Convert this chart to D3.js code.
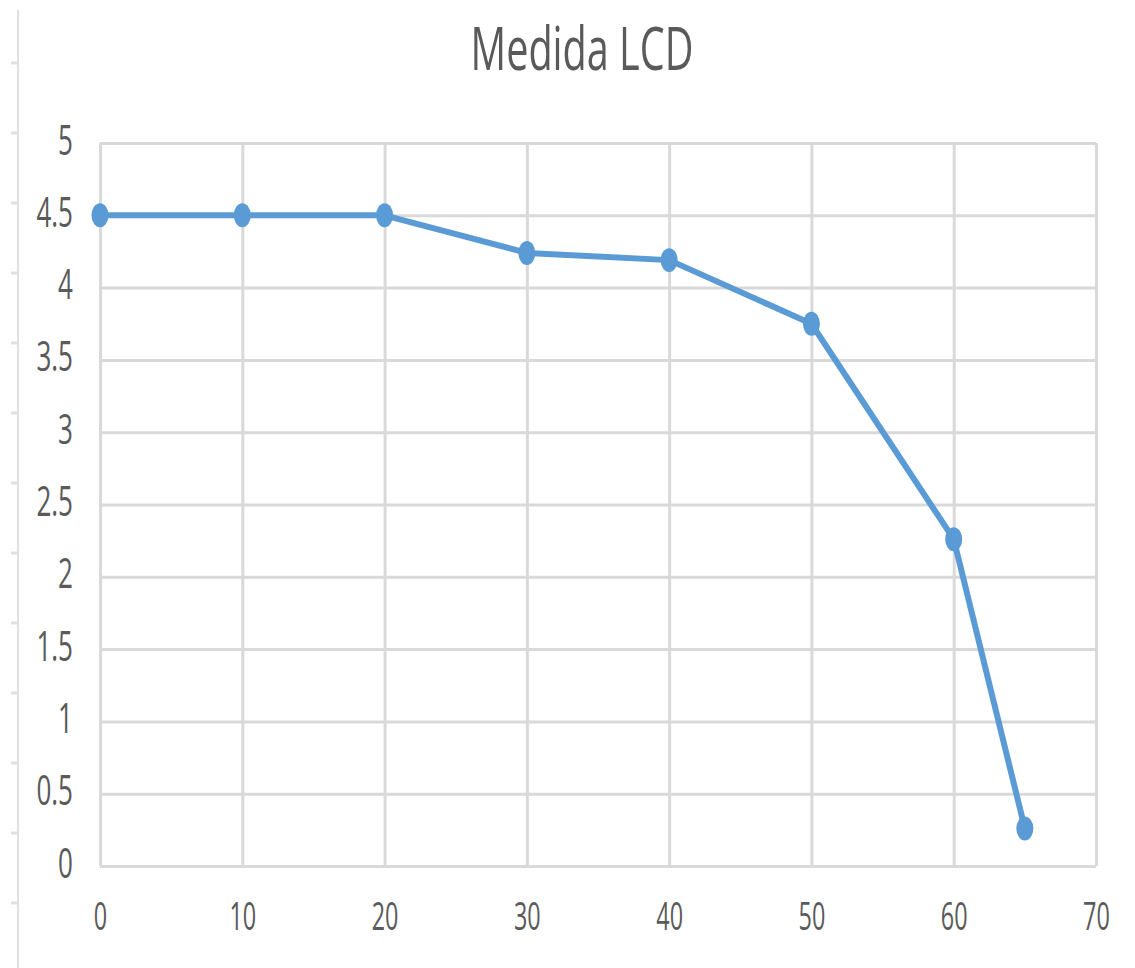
<!DOCTYPE html>
<html>
<head>
<meta charset="utf-8">
<script src="https://cdn.jsdelivr.net/npm/d3@7/dist/d3.min.js"></script>
<style>
  html, body { margin: 0; padding: 0; background: #fff; }
  svg { display: block; }
  text { font-family: "Open Sans", sans-serif; fill: #5a5a5a; }
</style>
</head>
<body>
<svg id="chart" width="1135" height="968"></svg>
<script>
// Measurement series: input level vs. LCD reading
const xValues = [0, 10, 20, 30, 40, 50, 60, 65];
const yValues = [4.5, 4.5, 4.5, 4.24, 4.19, 3.75, 2.26, 0.26];
const xTicks = [0, 10, 20, 30, 40, 50, 60, 70];
const yTicks = [0, 0.5, 1, 1.5, 2, 2.5, 3, 3.5, 4, 4.5, 5];
const titleText = "Medida LCD";

const svg = d3.select("#chart");
const W = 1135, H = 968;
const margin = { left: 100, right: 39, top: 143, bottom: 102 };

const x = d3.scaleLinear().domain([0, 70]).range([margin.left, W - margin.right]);
const y = d3.scaleLinear().domain([0, 5]).range([H - margin.bottom, margin.top]);

const gridColor = "#d9d9d9";

// Thin ruler strip along the left edge
const ruler = d3.scaleLinear().domain([0, 13]).range([63, 63 + 70 * 13]);
svg.append("line")
  .attr("x1", 18).attr("x2", 18).attr("y1", 10).attr("y2", H)
  .attr("stroke", "#e0e0e0").attr("stroke-width", 2);
svg.append("g").selectAll("line")
  .data(d3.range(0, 14))
  .join("line")
  .attr("x1", 11).attr("x2", 18)
  .attr("y1", d => ruler(d)).attr("y2", d => ruler(d))
  .attr("stroke", "#e0e0e0").attr("stroke-width", 3);

// Horizontal gridlines (y axis)
const yAxis = svg.append("g")
  .attr("transform", `translate(${margin.left},0)`)
  .call(d3.axisLeft(y).tickValues(yTicks).tickFormat(d3.format("")).tickSize(-(W - margin.left - margin.right)).tickPadding(0));
yAxis.select(".domain").remove();
yAxis.selectAll(".tick line").attr("stroke", gridColor).attr("stroke-width", 3);
yAxis.selectAll(".tick text")
  .attr("x", null).attr("dy", null)
  .attr("text-anchor", "end")
  .style("font-size", "42px")
  .attr("transform", "translate(-27,11) scale(0.62,1)");

// Vertical gridlines (x axis)
const xAxis = svg.append("g")
  .attr("transform", `translate(0,${H - margin.bottom})`)
  .call(d3.axisBottom(x).tickValues(xTicks).tickFormat(d3.format("d")).tickSize(-(H - margin.top - margin.bottom)).tickPadding(0));
xAxis.select(".domain").remove();
xAxis.selectAll(".tick line").attr("stroke", gridColor).attr("stroke-width", 3);
xAxis.selectAll(".tick text")
  .attr("y", null).attr("dy", null)
  .attr("text-anchor", "middle")
  .style("font-size", "39px")
  .attr("transform", "translate(0,64) scale(0.6,1)");

// Data line
const pts = xValues.map((v, i) => [v, yValues[i]]);
svg.append("path")
  .datum(pts)
  .attr("fill", "none")
  .attr("stroke", "#5b9bd5")
  .attr("stroke-width", 6)
  .attr("stroke-linejoin", "round")
  .attr("d", d3.line().x(d => x(d[0])).y(d => y(d[1])));

// Markers
svg.append("g").selectAll("ellipse")
  .data(pts)
  .join("ellipse")
  .attr("cx", d => x(d[0]))
  .attr("cy", d => y(d[1]))
  .attr("rx", 8.5).attr("ry", 12)
  .attr("fill", "#5b9bd5");

// Title
svg.append("text")
  .attr("text-anchor", "middle")
  .style("font-size", "60px")
  .attr("transform", `translate(${(margin.left + W - margin.right) / 2 - 16},70) scale(0.66,1)`)
  .text(titleText);
</script>
</body>
</html>
